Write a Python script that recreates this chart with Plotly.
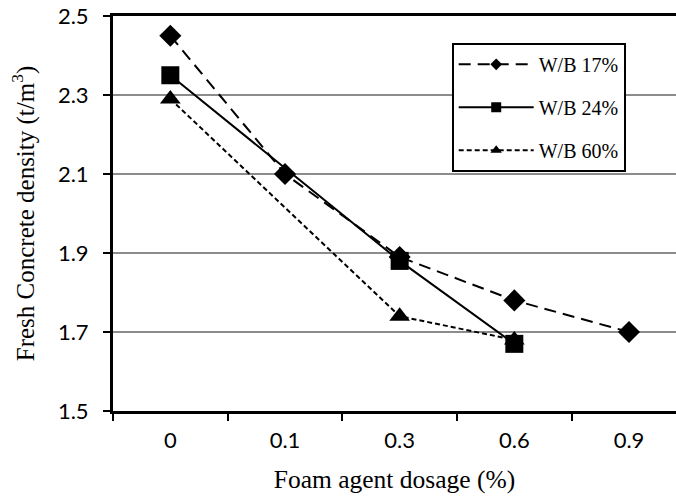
import plotly.graph_objects as go

# foam agent dosage (%) categories, evenly spaced like the source chart
dosage = ["0", "0.1", "0.3", "0.6", "0.9"]

# fresh concrete density (t/m3); None = not measured
wb17 = [2.45, 2.10, 1.89, 1.78, 1.70]
wb24 = [2.35, None, 1.88, 1.67, None]
wb60 = [2.29, None, 1.74, 1.68, None]

series = [
    ("W/B 17%", wb17, "12px,7px", "diamond", 17, 9),
    ("W/B 24%", wb24, "solid", "square", 18, 10),
    ("W/B 60%", wb60, "5px,3px", "triangle-up", 18, 10),
]

fig = go.Figure()
for i, (name, vals, dash, symbol, size, leg_size) in enumerate(series):
    fig.add_trace(
        go.Scatter(
            x=dosage, y=vals, mode="lines+markers", connectgaps=True,
            line=dict(color="black", width=2, dash=dash),
            marker=dict(symbol=symbol, size=size, color="black"),
            showlegend=False, name=name,
        )
    )
    # legend-only entry with the smaller legend markers
    fig.add_trace(
        go.Scatter(
            x=[None], y=[None], mode="lines+markers", name=name,
            line=dict(color="black", width=2, dash=dash),
            marker=dict(symbol=symbol, size=leg_size, color="black"),
            legendgroup=f"g{i}",
        )
    )

fig.update_layout(
    width=676, height=499,
    margin=dict(l=113, r=0, t=16, b=88),
    plot_bgcolor="white", paper_bgcolor="white",
    font=dict(family="Liberation Serif", color="black"),
    legend=dict(
        x=0.6016, y=0.932, xanchor="left", yanchor="top",
        bordercolor="black", borderwidth=2, bgcolor="white",
        font=dict(family="Liberation Serif", size=20),
        tracegroupgap=14, itemwidth=75,
    ),
)
fig.update_xaxes(
    type="category", range=[-0.5, 4.41], automargin=False,
    showline=True, linecolor="black", linewidth=3, mirror=True,
    ticks="outside", tickson="boundaries", ticklen=7, tickwidth=2, tickcolor="black",
    tickfont=dict(family="Lato", size=22), ticklabelstandoff=8,
    showgrid=False, zeroline=False,
    title=dict(text="Foam agent dosage (%)", font=dict(size=25.5), standoff=18),
)
fig.update_yaxes(
    range=[1.5, 2.5], tickvals=[1.5, 1.7, 1.9, 2.1, 2.3, 2.5], tickformat=".1f",
    automargin=False,
    showline=True, linecolor="black", linewidth=3,
    ticks="outside", ticklen=7, tickwidth=2, tickcolor="black",
    tickfont=dict(family="Lato", size=22), ticklabelstandoff=10,
    showgrid=True, gridcolor="#8c8c8c", gridwidth=1.5, zeroline=False,
    title=dict(text="Fresh Concrete density (t/m<sup>3</sup>)", font=dict(size=25), standoff=17),
)

# drop the default 8px page margin so the figure sits at the window corner
fig.write_html(
    "out.html",
    config={"displayModeBar": False},
    post_script="document.body.style.margin = '0';",
)
